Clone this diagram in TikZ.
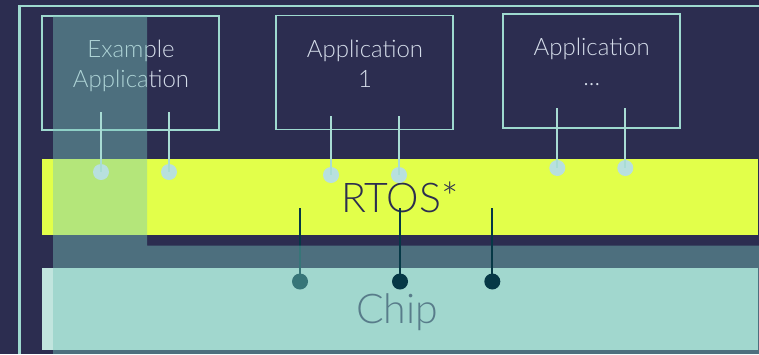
\documentclass[tikz,border=0pt]{standalone}
\usepackage{fontspec}
\setmainfont{Lato Light}
\definecolor{navy}{HTML}{2C2D50}
\definecolor{frame}{HTML}{9ED9CF}
\definecolor{apptxt}{HTML}{D5DDEA}
\definecolor{rtosyellow}{HTML}{E2FF4A}
\definecolor{chipteal}{HTML}{C1E5DE}
\definecolor{chiptxt}{HTML}{587C8A}
\definecolor{veil}{HTML}{79C6BB}
\definecolor{pinlight}{HTML}{B8E0DE}
\definecolor{wirelight}{HTML}{A8DCD4}
\definecolor{pindark}{HTML}{063846}
\begin{document}
\begin{tikzpicture}[x=1pt, y=-1pt,
  appbox/.style={draw=frame, line width=1.5pt, minimum width=177pt, minimum height=114pt, inner sep=0pt},
  apptext/.style={text=apptxt, font=\fontsize{24}{30}\selectfont, align=center, anchor=north, inner sep=0pt},
  bar/.style={draw=none, minimum width=716pt, inner sep=0pt},
  lpin/.style={fill=pinlight, circle, inner sep=0pt, minimum size=16pt},
  dpin/.style={fill=pindark, circle, inner sep=0pt, minimum size=16pt},
  lwire/.style={draw=wirelight, line width=2pt},
  dwire/.style={draw=pindark, line width=2pt}]
\fill[navy] (0,0) rectangle (759,354);
\useasboundingbox (0,0) rectangle (759,354);
\draw[frame, line width=2.5pt] (19.5,354) -- (19.5,6) -- (759,6);

% applications
\node (ex) at (130.5,73) [appbox] {};
\node (app1) at (364.7,72.7) [appbox] {};
\node (appn) at (591.7,70.8) [appbox] {};
\node (extxt) at (131,39.5) [apptext] {Example\\Application};
\node (app1txt) at (365,39.5) [apptext] {Application\\1};
\node (appntxt) at (591.7,37.5) [apptext] {Application\\...};

% layers
\node (rtos) at (400,197) [bar, fill=rtosyellow, minimum height=76pt, text=navy, font=\fontsize{41}{41}\selectfont] {RTOS*};
\node (chip) at (400,309) [bar, fill=chipteal, minimum height=82pt] {};

\coordinate (d1) at (300,208);
\node (q1) at (300,281.5) [dpin] {};
\draw[dwire] (d1) -- (q1.center);

\fill[veil, opacity=0.43] (53,16) -- (147,16) -- (147,245.7) -- (759,245.7) -- (759,354) -- (53,354) -- cycle;

\node (chiplbl) at (397,323) [anchor=base, text=chiptxt, font=\fontsize{41}{41}\selectfont, inner sep=0pt] {Chip};

% app pins
\coordinate (t1) at (101,112);
\coordinate (t2) at (169,112);
\coordinate (t3) at (331,116);
\coordinate (t4) at (399,116);
\coordinate (t5) at (557.3,108);
\coordinate (t6) at (625.3,108);
\node (p1) at (101,172) [lpin] {};
\node (p2) at (169,172) [lpin] {};
\node (p3) at (331,175) [lpin] {};
\node (p4) at (399,175) [lpin] {};
\node (p5) at (557.3,168) [lpin] {};
\node (p6) at (625.3,168) [lpin] {};
\draw[lwire] (t1) -- (p1.center) (t2) -- (p2.center) (t3) -- (p3.center)
  (t4) -- (p4.center) (t5) -- (p5.center) (t6) -- (p6.center);

% rtos pins
\coordinate (d2) at (400,208);
\coordinate (d3) at (492.3,208);
\node (q2) at (400,281.5) [dpin] {};
\node (q3) at (492.3,281.5) [dpin] {};
\draw[dwire] (d2) -- (q2.center) (d3) -- (q3.center);
\end{tikzpicture}
\end{document}
